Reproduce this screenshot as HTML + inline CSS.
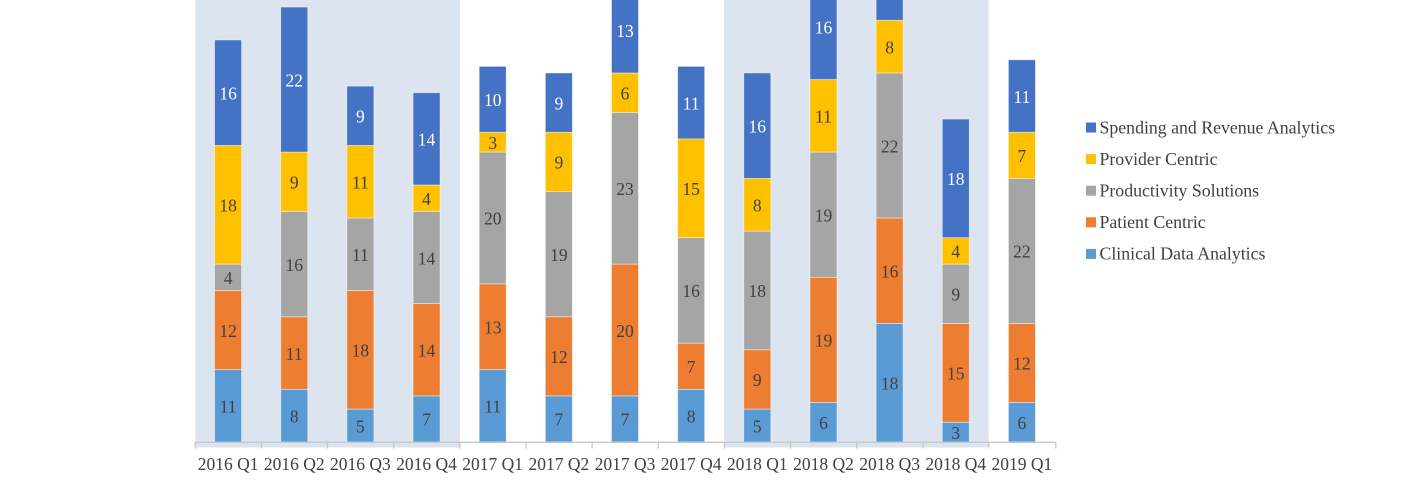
<!DOCTYPE html>
<html><head><meta charset="utf-8"><style>
html,body{margin:0;padding:0;background:#fff;}
svg{display:block;}
text{font-family:"Liberation Serif","Times New Roman",serif;}
</style></head><body>
<svg width="1415" height="483" viewBox="0 0 1415 483" xmlns="http://www.w3.org/2000/svg">
<rect x="0" y="0" width="1415" height="483" fill="#ffffff"/>
<rect x="195.5" y="0" width="264.6" height="447.5" fill="#dbe4ef"/>
<rect x="724.1" y="0" width="264.6" height="447.5" fill="#dbe4ef"/>

<g stroke="#ffffff" stroke-opacity="0.55" stroke-width="0.8">
<!-- i0 -->
<rect x="214.58" y="369.51" width="27" height="72.49" fill="#5B9BD5"/>
<rect x="214.58" y="290.43" width="27" height="79.08" fill="#ED7D31"/>
<rect x="214.58" y="264.07" width="27" height="26.36" fill="#A5A5A5"/>
<rect x="214.58" y="145.45" width="27" height="118.62" fill="#FFC000"/>
<rect x="214.58" y="40.01" width="27" height="105.44" fill="#4472C4"/>
<!-- i1 -->
<rect x="280.73" y="389.28" width="27" height="52.72" fill="#5B9BD5"/>
<rect x="280.73" y="316.79" width="27" height="72.49" fill="#ED7D31"/>
<rect x="280.73" y="211.35" width="27" height="105.44" fill="#A5A5A5"/>
<rect x="280.73" y="152.04" width="27" height="59.31" fill="#FFC000"/>
<rect x="280.73" y="7.06" width="27" height="144.98" fill="#4472C4"/>
<!-- i2 -->
<rect x="346.88" y="409.05" width="27" height="32.95" fill="#5B9BD5"/>
<rect x="346.88" y="290.43" width="27" height="118.62" fill="#ED7D31"/>
<rect x="346.88" y="217.94" width="27" height="72.49" fill="#A5A5A5"/>
<rect x="346.88" y="145.45" width="27" height="72.49" fill="#FFC000"/>
<rect x="346.88" y="86.14" width="27" height="59.31" fill="#4472C4"/>
<!-- i3 -->
<rect x="413.04" y="395.87" width="27" height="46.13" fill="#5B9BD5"/>
<rect x="413.04" y="303.61" width="27" height="92.26" fill="#ED7D31"/>
<rect x="413.04" y="211.35" width="27" height="92.26" fill="#A5A5A5"/>
<rect x="413.04" y="184.99" width="27" height="26.36" fill="#FFC000"/>
<rect x="413.04" y="92.73" width="27" height="92.26" fill="#4472C4"/>
<!-- i4 -->
<rect x="479.19" y="369.51" width="27" height="72.49" fill="#5B9BD5"/>
<rect x="479.19" y="283.84" width="27" height="85.67" fill="#ED7D31"/>
<rect x="479.19" y="152.04" width="27" height="131.8" fill="#A5A5A5"/>
<rect x="479.19" y="132.27" width="27" height="19.77" fill="#FFC000"/>
<rect x="479.19" y="66.37" width="27" height="65.9" fill="#4472C4"/>
<!-- i5 -->
<rect x="545.35" y="395.87" width="27" height="46.13" fill="#5B9BD5"/>
<rect x="545.35" y="316.79" width="27" height="79.08" fill="#ED7D31"/>
<rect x="545.35" y="191.58" width="27" height="125.21" fill="#A5A5A5"/>
<rect x="545.35" y="132.27" width="27" height="59.31" fill="#FFC000"/>
<rect x="545.35" y="72.96" width="27" height="59.31" fill="#4472C4"/>
<!-- i6 -->
<rect x="611.5" y="395.87" width="27" height="46.13" fill="#5B9BD5"/>
<rect x="611.5" y="264.07" width="27" height="131.8" fill="#ED7D31"/>
<rect x="611.5" y="112.5" width="27" height="151.57" fill="#A5A5A5"/>
<rect x="611.5" y="72.96" width="27" height="39.54" fill="#FFC000"/>
<rect x="611.5" y="-12.71" width="27" height="85.67" fill="#4472C4"/>
<!-- i7 -->
<rect x="677.65" y="389.28" width="27" height="52.72" fill="#5B9BD5"/>
<rect x="677.65" y="343.15" width="27" height="46.13" fill="#ED7D31"/>
<rect x="677.65" y="237.71" width="27" height="105.44" fill="#A5A5A5"/>
<rect x="677.65" y="138.86" width="27" height="98.85" fill="#FFC000"/>
<rect x="677.65" y="66.37" width="27" height="72.49" fill="#4472C4"/>
<!-- i8 -->
<rect x="743.81" y="409.05" width="27" height="32.95" fill="#5B9BD5"/>
<rect x="743.81" y="349.74" width="27" height="59.31" fill="#ED7D31"/>
<rect x="743.81" y="231.12" width="27" height="118.62" fill="#A5A5A5"/>
<rect x="743.81" y="178.4" width="27" height="52.72" fill="#FFC000"/>
<rect x="743.81" y="72.96" width="27" height="105.44" fill="#4472C4"/>
<!-- i9 -->
<rect x="809.96" y="402.46" width="27" height="39.54" fill="#5B9BD5"/>
<rect x="809.96" y="277.25" width="27" height="125.21" fill="#ED7D31"/>
<rect x="809.96" y="152.04" width="27" height="125.21" fill="#A5A5A5"/>
<rect x="809.96" y="79.55" width="27" height="72.49" fill="#FFC000"/>
<rect x="809.96" y="-25.89" width="27" height="105.44" fill="#4472C4"/>
<!-- i10 -->
<rect x="876.12" y="323.38" width="27" height="118.62" fill="#5B9BD5"/>
<rect x="876.12" y="217.94" width="27" height="105.44" fill="#ED7D31"/>
<rect x="876.12" y="72.96" width="27" height="144.98" fill="#A5A5A5"/>
<rect x="876.12" y="20.24" width="27" height="52.72" fill="#FFC000"/>
<rect x="876.12" y="-45.66" width="27" height="65.9" fill="#4472C4"/>
<!-- i11 -->
<rect x="942.27" y="422.23" width="27" height="19.77" fill="#5B9BD5"/>
<rect x="942.27" y="323.38" width="27" height="98.85" fill="#ED7D31"/>
<rect x="942.27" y="264.07" width="27" height="59.31" fill="#A5A5A5"/>
<rect x="942.27" y="237.71" width="27" height="26.36" fill="#FFC000"/>
<rect x="942.27" y="119.09" width="27" height="118.62" fill="#4472C4"/>
<!-- i12 -->
<rect x="1008.42" y="402.46" width="27" height="39.54" fill="#5B9BD5"/>
<rect x="1008.42" y="323.38" width="27" height="79.08" fill="#ED7D31"/>
<rect x="1008.42" y="178.4" width="27" height="144.98" fill="#A5A5A5"/>
<rect x="1008.42" y="132.27" width="27" height="46.13" fill="#FFC000"/>
<rect x="1008.42" y="59.78" width="27" height="72.49" fill="#4472C4"/>
</g>

<!-- data labels dark -->
<g font-size="17.5" fill="#404040" text-anchor="middle" transform="translate(0,0.8)">
<text x="228.08" y="411.8">11</text><text x="228.08" y="336">12</text><text x="228.08" y="283.2">4</text><text x="228.08" y="210.8">18</text>
<text x="294.23" y="421.6">8</text><text x="294.23" y="359">11</text><text x="294.23" y="270.1">16</text><text x="294.23" y="187.7">9</text>
<text x="360.38" y="431.5">5</text><text x="360.38" y="355.7">18</text><text x="360.38" y="260.2">11</text><text x="360.38" y="187.7">11</text>
<text x="426.54" y="424.9">7</text><text x="426.54" y="355.7">14</text><text x="426.54" y="263.5">14</text><text x="426.54" y="204.2">4</text>
<text x="492.69" y="411.8">11</text><text x="492.69" y="332.7">13</text><text x="492.69" y="223.9">20</text><text x="492.69" y="148.2">3</text>
<text x="558.85" y="424.9">7</text><text x="558.85" y="362.3">12</text><text x="558.85" y="260.2">19</text><text x="558.85" y="167.9">9</text>
<text x="625" y="424.9">7</text><text x="625" y="336">20</text><text x="625" y="194.3">23</text><text x="625" y="98.7">6</text>
<text x="691.15" y="421.6">8</text><text x="691.15" y="372.2">7</text><text x="691.15" y="296.4">16</text><text x="691.15" y="194.3">15</text>
<text x="757.31" y="431.5">5</text><text x="757.31" y="385.4">9</text><text x="757.31" y="296.4">18</text><text x="757.31" y="210.8">8</text>
<text x="823.46" y="428.2">6</text><text x="823.46" y="345.9">19</text><text x="823.46" y="220.6">19</text><text x="823.46" y="121.8">11</text>
<text x="889.62" y="388.7">18</text><text x="889.62" y="276.7">16</text><text x="889.62" y="151.5">22</text><text x="889.62" y="52.6">8</text>
<text x="955.77" y="438.1">3</text><text x="955.77" y="378.8">15</text><text x="955.77" y="299.7">9</text><text x="955.77" y="256.9">4</text>
<text x="1021.92" y="428.2">6</text><text x="1021.92" y="368.9">12</text><text x="1021.92" y="256.9">22</text><text x="1021.92" y="161.3">7</text>
</g>
<!-- data labels white -->
<g font-size="17.5" fill="#ffffff" text-anchor="middle" transform="translate(0,0.8)">
<text x="228.08" y="98.7">16</text>
<text x="294.23" y="85.5">22</text>
<text x="360.38" y="121.8">9</text>
<text x="426.54" y="144.9">14</text>
<text x="492.69" y="105.3">10</text>
<text x="558.85" y="108.6">9</text>
<text x="625" y="36.1">13</text>
<text x="691.15" y="108.6">11</text>
<text x="757.31" y="131.7">16</text>
<text x="823.46" y="32.8">16</text>
<text x="955.77" y="184.4">18</text>
<text x="1021.92" y="102">11</text>
</g>

<!-- axis -->
<g stroke="#c8c8c8" stroke-width="1.3">
<line x1="194.5" y1="442.3" x2="1056.5" y2="442.3"/>
<line x1="195.2" y1="442" x2="195.2" y2="448.5"/>
<line x1="261.35" y1="442" x2="261.35" y2="448.5"/>
<line x1="327.5" y1="442" x2="327.5" y2="448.5"/>
<line x1="393.65" y1="442" x2="393.65" y2="448.5"/>
<line x1="459.8" y1="442" x2="459.8" y2="448.5"/>
<line x1="525.95" y1="442" x2="525.95" y2="448.5"/>
<line x1="592.1" y1="442" x2="592.1" y2="448.5"/>
<line x1="658.25" y1="442" x2="658.25" y2="448.5"/>
<line x1="724.4" y1="442" x2="724.4" y2="448.5"/>
<line x1="790.55" y1="442" x2="790.55" y2="448.5"/>
<line x1="856.7" y1="442" x2="856.7" y2="448.5"/>
<line x1="922.85" y1="442" x2="922.85" y2="448.5"/>
<line x1="989" y1="442" x2="989" y2="448.5"/>
<line x1="1055.8" y1="442" x2="1055.8" y2="448.5"/>
</g>

<!-- category labels -->
<g font-size="17.5" fill="#404040" text-anchor="middle">
<text x="228.08" y="470">2016 Q1</text>
<text x="294.23" y="470">2016 Q2</text>
<text x="360.38" y="470">2016 Q3</text>
<text x="426.54" y="470">2016 Q4</text>
<text x="492.69" y="470">2017 Q1</text>
<text x="558.85" y="470">2017 Q2</text>
<text x="625" y="470">2017 Q3</text>
<text x="691.15" y="470">2017 Q4</text>
<text x="757.31" y="470">2018 Q1</text>
<text x="823.46" y="470">2018 Q2</text>
<text x="889.62" y="470">2018 Q3</text>
<text x="955.77" y="470">2018 Q4</text>
<text x="1021.92" y="470">2019 Q1</text>
</g>

<!-- legend -->
<rect x="1086" y="122.5" width="10" height="10" fill="#4472C4"/>
<rect x="1086" y="154.1" width="10" height="10" fill="#FFC000"/>
<rect x="1086" y="185.7" width="10" height="10" fill="#A5A5A5"/>
<rect x="1086" y="217.3" width="10" height="10" fill="#ED7D31"/>
<rect x="1086" y="248.9" width="10" height="10" fill="#5B9BD5"/>
<g font-size="17.8" fill="#404040">
<text x="1099.5" y="133.3">Spending and Revenue Analytics</text>
<text x="1099.5" y="164.9">Provider Centric</text>
<text x="1099.5" y="196.5">Productivity Solutions</text>
<text x="1099.5" y="228.1">Patient Centric</text>
<text x="1099.5" y="259.7">Clinical Data Analytics</text>
</g>
</svg>
</body></html>
